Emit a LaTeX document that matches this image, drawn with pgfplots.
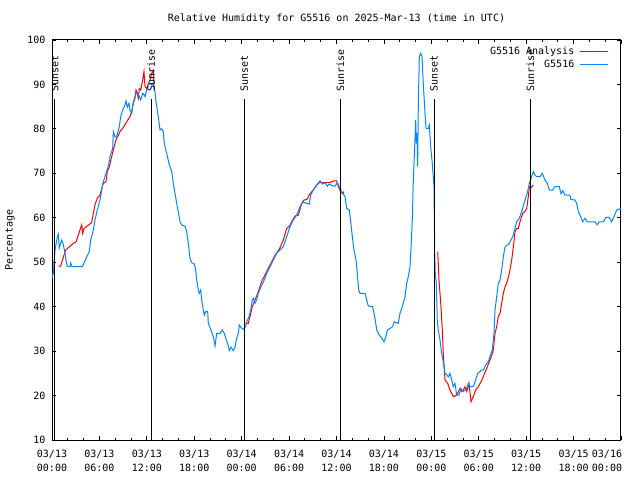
\documentclass[border=0pt]{standalone}
\usepackage{pgfplots}
\usepackage{pgfplotstable}
\pgfplotsset{compat=1.18}
\usepackage{fontspec}
\setmainfont{DejaVu Sans Mono}
\definecolor{anred}{RGB}{255,0,0}
\definecolor{obsblue}{RGB}{0,136,255}

% hours since 03/13 00:00 UTC, relative humidity (%)
\pgfplotstableread{
h rh
0.80 49.15
1.10 49.15
1.52 51.6
1.73 52.75
2.70 54.25
3.04 54.6
3.33 56.1
3.76 58.4
3.88 56.5
4.05 57.6
5.02 58.9
5.23 61
5.44 62.9
5.73 64.4
6.07 65.1
6.29 66.6
6.49 67.75
6.83 68.1
7.00 70.4
7.25 71.5
7.55 73.75
7.76 75.25
7.97 76.75
8.19 78
8.39 78.5
8.60 79.4
9.02 80.3
9.45 81.6
9.87 82.75
10.09 83.9
10.29 85.75
10.50 86.9
10.63 88.75
10.79 88
10.92 86.9
11.05 89.1
11.22 88.75
11.48 91
11.64 92.9
11.77 89.5
11.98 89.1
12.19 90.25
12.40 91
12.62 92.5
12.82 93.1
12.91 89.5
13.00 nan
24.51 36.25
24.84 36.25
25.05 37.75
25.35 40
25.69 41.5
26.03 43
26.32 44.5
26.61 46
26.95 47.1
27.37 48.6
27.80 50.1
28.22 51.6
28.76 52.9
29.27 55
29.70 57.6
30.03 58.1
30.46 59.5
30.75 60.4
31.17 60.6
31.60 63.25
31.89 64
32.23 64.1
32.65 65.4
33.06 66.25
33.49 67.3
33.82 67.9
35.18 67.9
35.60 68.3
36.02 68.3
36.23 67.0
36.53 65.9
36.79 65.4
36.95 65.9
37.00 nan
48.81 52.4
48.97 46
49.22 40
49.39 34.75
49.51 29.5
49.73 23.5
50.07 22.75
50.36 21.25
50.78 19.75
51.21 20.1
51.63 21.6
51.84 20.9
52.05 21.25
52.26 22
52.48 20.9
52.77 22.75
53.02 18.6
53.31 19.75
53.61 21.25
53.94 22
54.29 23.1
54.58 24.25
55.00 26.1
55.42 28
55.72 29.5
55.84 30.25
56.06 34
56.27 35.5
56.47 37.75
56.69 38.5
56.90 40.75
57.11 43
57.33 44.5
57.54 45.25
57.87 47.5
58.17 50.5
58.38 53.5
58.59 56.9
58.80 57.6
59.01 57.6
59.22 59.1
59.56 61
59.85 61.4
60.07 62.1
60.27 64.75
60.40 67
60.57 66.6
60.70 67
60.90 67.4
}\analysis

\pgfplotstableread{
h rh
0.05 46.5
0.16 47.6
0.38 52.7
0.67 55.7
0.80 56.3
0.92 53.2
1.23 55
1.43 54
1.65 52
1.77 50.5
1.94 49
2.28 49
2.37 49.8
2.53 49
3.83 49
4.05 49.8
4.39 51.2
4.72 52.4
4.90 55
5.23 57.25
5.44 59.5
5.73 61.75
6.07 64
6.36 67
6.49 68.1
7.12 71.5
7.34 73.75
7.68 75.6
7.76 79.4
7.97 78.2
8.22 78.5
8.52 80.5
8.69 82.75
8.95 84.25
9.24 85.4
9.36 86.3
9.53 84.9
9.74 85.75
9.87 84.25
10.09 83.5
10.21 85.4
10.38 86.5
10.63 88
10.79 88.25
11.05 87.25
11.22 86.5
11.48 88
11.64 87.7
11.77 87.25
11.98 88.75
12.19 89.9
12.40 90.25
12.62 89.9
12.82 90.25
12.91 89.1
13.03 88.4
13.16 86.1
13.32 84.25
13.45 82.75
13.67 79.75
13.88 80
14.08 79.4
14.21 76.75
14.51 74.5
14.80 72.25
15.15 70.4
15.35 67.75
15.56 65.5
15.78 63.25
15.98 61.4
16.20 59.1
16.41 58.4
16.83 58.1
17.04 56.9
17.25 54.25
17.46 50.9
17.68 49.9
18.01 49.6
18.18 48.25
18.31 46
18.51 43.75
18.64 43.0
18.82 43.75
18.94 41.5
19.15 39.25
19.27 38.1
19.45 38.9
19.70 38.9
19.78 36.25
20.08 34.9
20.41 33.25
20.63 31.15
20.84 34
21.26 34
21.55 34.75
21.80 34
21.98 32.9
22.23 31.75
22.44 30.1
22.65 30.9
22.94 30.1
23.16 30.9
23.37 32.9
23.57 34
23.70 35.9
23.92 35.3
24.21 34.9
24.51 35.5
24.64 36.6
24.93 37.75
25.18 39.6
25.35 41.5
25.47 41.9
25.69 40.75
25.90 41.5
26.10 43
26.54 44.9
26.86 46
27.17 47.5
27.59 49
28.00 50.5
28.43 52
28.85 52.8
29.27 53.5
29.70 55.75
30.12 58
30.53 59.5
30.96 60.6
31.38 62.5
31.80 63.6
32.14 63.25
32.56 63.1
32.74 65.1
33.06 66.25
33.49 67.4
33.91 68.3
34.25 67.6
34.55 67.9
34.84 67.1
35.09 67.6
35.39 67.3
35.81 67.1
36.10 67.9
36.35 67
36.66 65.9
36.86 65.4
37.08 64.75
37.29 62.1
37.62 61.75
37.80 59.1
38.05 55
38.21 52.75
38.47 50.5
38.63 47.5
38.81 43.75
38.97 43
39.61 43
39.82 41.5
40.02 40.15
40.58 40
40.87 37.4
41.09 34.75
41.42 33.6
41.72 32.9
42.01 32.1
42.26 33.25
42.43 34.75
42.77 35.1
43.11 35.5
43.31 36.6
43.82 36.25
44.03 38.5
44.33 40
44.67 42.25
44.88 45.25
45.09 46.75
45.30 49
45.43 53.1
45.59 59.5
45.72 68.5
45.93 77.5
46.02 82
46.10 76.75
46.19 79
46.27 71.5
46.35 85
46.48 96.25
46.65 97
46.82 96.25
46.98 90.25
47.20 83.5
47.33 80.1
47.62 80.1
47.74 80.9
47.92 76
48.12 72.25
48.34 67
48.37 61.75
48.43 52
48.50 47.5
48.63 45.25
48.75 37
48.88 34.75
49.10 32.5
49.31 29.5
49.51 27.6
49.73 25
49.94 24.7
50.15 24.2
50.36 25
50.58 23.5
50.78 22
50.99 22.75
51.21 20.1
51.50 20.1
51.75 21.6
52.05 20.9
52.26 21.25
52.48 21.6
52.68 22.75
52.89 22
53.31 22
53.61 23.5
53.87 25
54.16 25.4
54.37 25.75
54.58 25.75
54.88 26.9
55.21 27.6
55.55 29.5
55.72 30.25
55.93 34
56.06 39.25
56.27 42.25
56.47 45.25
56.69 46
56.90 48.25
57.11 51.25
57.33 53.5
57.66 53.9
57.87 54.25
58.30 55.75
58.59 57.6
58.80 59.1
59.13 59.9
59.44 61.4
59.73 63.25
59.98 64.75
60.14 65.5
60.40 67.75
60.70 69.25
60.90 70.4
61.12 69.6
61.33 69.25
61.75 69.25
62.04 70
62.38 68.5
62.67 67.75
62.93 66.25
63.36 66.25
63.65 67
64.19 67
64.41 65.4
64.62 66.1
64.91 65.1
65.55 65.1
65.67 64.1
66.18 64
66.39 63.25
66.60 61.4
66.90 60.25
67.15 59.1
67.45 59.9
67.74 59.1
68.71 59.1
69.00 58.4
69.26 59.1
69.76 59.1
70.10 60.1
70.52 60.1
70.82 59.1
71.11 60.25
71.46 61.75
72.00 62.1
}\station

\begin{document}
\fontsize{10pt}{14pt}\selectfont
\begin{tikzpicture}[x=1pt,y=1pt]
\useasboundingbox (0,0) rectangle (640,480);
\begin{axis}[
  at={(52pt,40pt)}, anchor=south west,
  scale only axis, width=569pt, height=400pt,
  xmin=0, xmax=72, ymin=10, ymax=100,
  xtick={0,6,...,72},
  xticklabels={{03/13\\00:00},{03/13\\06:00},{03/13\\12:00},{03/13\\18:00},
    {03/14\\00:00},{03/14\\06:00},{03/14\\12:00},{03/14\\18:00},
    {03/15\\00:00},{03/15\\06:00},{03/15\\12:00},{03/15\\18:00},
    {\hspace*{-28pt}03/16\\\hspace*{-28pt}00:00}},
  minor x tick num=2,
  ytick={10,20,...,100},
  tick align=inside,
  major tick length=4pt, minor tick length=2pt,
  tick style={black, line width=0.8pt},
  axis line style={line width=1pt},
  every tick label/.append style={font=\fontsize{10pt}{14pt}\selectfont},
  x tick label style={align=center, yshift=-7pt},
  y tick label style={xshift=-3pt},
  /pgf/number format/assume math mode=true,
  legend style={draw=none, fill=none, at={(rel axis cs:1,1)}, anchor=north east,
    xshift=-9pt, yshift=-3pt, font=\fontsize{10pt}{12pt}\selectfont,
    nodes={inner sep=1.5pt}, row sep=1.5pt, column sep=4pt},
  legend cell align=right,
  legend plot pos=right,
  legend image code/.code={\draw[#1, line width=1pt] (0pt,0pt) -- (28pt,0pt);},
  unbounded coords=jump,
]
\addplot[anred, line width=1pt] table[x=h, y=rh] {\analysis};
\addlegendentry{G5516 Analysis}
\addplot[obsblue, line width=1pt] table[x=h, y=rh] {\station};
\addlegendentry{G5516}
% sunset / sunrise markers
\addplot[black, line width=1pt, forget plot] coordinates {(0.34,10) (0.34,86.8)};
\addplot[black, line width=1pt, forget plot] coordinates {(12.53,10) (12.53,86.8)};
\addplot[black, line width=1pt, forget plot] coordinates {(24.34,10) (24.34,86.8)};
\addplot[black, line width=1pt, forget plot] coordinates {(36.50,10) (36.50,86.8)};
\addplot[black, line width=1pt, forget plot] coordinates {(48.34,10) (48.34,86.8)};
\addplot[black, line width=1pt, forget plot] coordinates {(60.53,10) (60.53,86.8)};
\node[rotate=90, anchor=west, inner sep=0pt] at (axis cs:0.34,88.3) {Sunset};
\node[rotate=90, anchor=west, inner sep=0pt] at (axis cs:12.53,88.3) {Sunrise};
\node[rotate=90, anchor=west, inner sep=0pt] at (axis cs:24.34,88.3) {Sunset};
\node[rotate=90, anchor=west, inner sep=0pt] at (axis cs:36.50,88.3) {Sunrise};
\node[rotate=90, anchor=west, inner sep=0pt] at (axis cs:48.34,88.3) {Sunset};
\node[rotate=90, anchor=west, inner sep=0pt] at (axis cs:60.53,88.3) {Sunrise};
\end{axis}
\node at (336.5,461) {Relative Humidity for G5516 on 2025-Mar-13 (time in UTC)};
\node[rotate=90] at (10,240) {Percentage};
\end{tikzpicture}
\end{document}
